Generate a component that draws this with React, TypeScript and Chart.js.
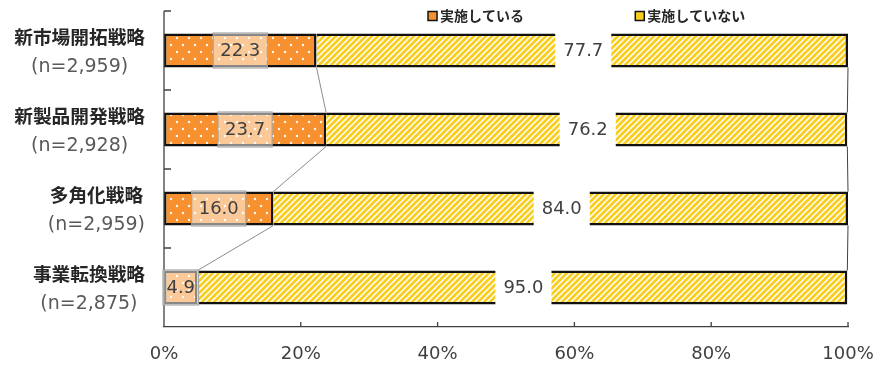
import { useEffect, useRef } from 'react';
import { Chart, registerables } from 'chart.js';

Chart.register(...registerables);

const categories = ['新市場開拓戦略', '新製品開発戦略', '多角化戦略', '事業転換戦略'];
const sampleSizes = ['(n=2,959)', '(n=2,928)', '(n=2,959)', '(n=2,875)'];
const seriesNames = ['実施している', '実施していない'];
const implemented = [22.3, 23.7, 16.0, 4.9];
const notImplemented = [77.7, 76.2, 84.0, 95.0];
const xTicks = [0, 20, 40, 60, 80, 100];

const ORANGE = '#F7912F';
const YELLOW = '#F9CD1E';

function dotPattern(): CanvasPattern | string {
  const c = document.createElement('canvas');
  c.width = 12;
  c.height = 14;
  const g = c.getContext('2d');
  if (!g) return ORANGE;
  g.fillStyle = ORANGE;
  g.fillRect(0, 0, 12, 14);
  g.fillStyle = 'rgba(255,255,255,0.95)';
  [[3, 3], [9, 10]].forEach(([x, y]) => {
    g.beginPath();
    g.arc(x, y, 1.2, 0, Math.PI * 2);
    g.fill();
  });
  return g.createPattern(c, 'repeat') || ORANGE;
}

function hatchPattern(): CanvasPattern | string {
  const s = 6;
  const c = document.createElement('canvas');
  c.width = s;
  c.height = s;
  const g = c.getContext('2d');
  if (!g) return YELLOW;
  g.fillStyle = '#FFFFFF';
  g.fillRect(0, 0, s, s);
  g.strokeStyle = YELLOW;
  g.lineWidth = 2.7;
  g.beginPath();
  g.moveTo(0, s);
  g.lineTo(s, 0);
  g.moveTo(-s / 2, s / 2);
  g.lineTo(s / 2, -s / 2);
  g.moveTo(s / 2, s * 1.5);
  g.lineTo(s * 1.5, s / 2);
  g.stroke();
  return g.createPattern(c, 'repeat') || YELLOW;
}

const decorPlugin = {
  id: 'decor',
  afterDatasetsDraw(chart: any) {
    const ctx: CanvasRenderingContext2D = chart.ctx;
    const area = chart.chartArea;
    const xScale = chart.scales.x;
    const yScale = chart.scales.y;
    const n = chart.data.labels.length;
    const cat = (area.bottom - area.top) / n;

    ctx.save();
    // series lines
    const lineColors = ['#8C8C8C', '#404040'];
    chart.data.datasets.forEach((_ds: any, di: number) => {
      const meta = chart.getDatasetMeta(di);
      ctx.strokeStyle = lineColors[di];
      ctx.lineWidth = 1;
      for (let i = 0; i < meta.data.length - 1; i++) {
        const a = meta.data[i].getProps(['x', 'y', 'height'], true);
        const b = meta.data[i + 1].getProps(['x', 'y', 'height'], true);
        ctx.beginPath();
        ctx.moveTo(a.x, a.y + a.height / 2);
        ctx.lineTo(b.x, b.y - b.height / 2);
        ctx.stroke();
      }
    });

    // axis line + ticks
    ctx.strokeStyle = '#404040';
    ctx.lineWidth = 1.3;
    ctx.beginPath();
    ctx.moveTo(area.left, area.top);
    ctx.lineTo(area.left, area.bottom);
    for (let i = 0; i < n; i++) {
      const y = yScale.getPixelForValue(i) - cat / 2;
      ctx.moveTo(area.left, y);
      ctx.lineTo(area.left + 7, y);
    }
    xTicks.forEach((v) => {
      if (v === 0) return;
      const x = xScale.getPixelForValue(v);
      ctx.moveTo(x, area.bottom - 5);
      ctx.lineTo(x, area.bottom);
    });
    ctx.stroke();

    // data labels
    ctx.font = '18px "DejaVu Sans"';
    ctx.textAlign = 'center';
    ctx.textBaseline = 'middle';
    chart.data.datasets.forEach((ds: any, di: number) => {
      const meta = chart.getDatasetMeta(di);
      meta.data.forEach((el: any, i: number) => {
        const p = el.getProps(['x', 'y', 'base', 'height'], true);
        const txt = Number(ds.data[i]).toFixed(1);
        const tw = ctx.measureText(txt).width;
        const segW = Math.abs(p.x - p.base);
        const w = Math.min(tw + 14, segW + 2);
        const cx = (p.x + p.base) / 2;
        const h = p.height + 1;
        const top = p.y - h / 2;
        if (di === 0) {
          ctx.fillStyle = 'rgba(255,255,255,0.5)';
          ctx.fillRect(cx - w / 2, top, w, h);
          ctx.strokeStyle = '#A6A6A6';
          ctx.lineWidth = 1.2;
          ctx.strokeRect(cx - w / 2, top, w, h);
        } else {
          ctx.fillStyle = '#FFFFFF';
          ctx.fillRect(cx - w / 2, top - 0.5, w + 2, h + 1);
        }
        ctx.fillStyle = '#404040';
        ctx.fillText(txt, cx + (di === 1 ? 1 : 0), p.y + 1);
      });
    });

    // category labels
    (chart.data.labels as string[][]).forEach((lines, i) => {
      const y = yScale.getPixelForValue(i);
      ctx.font = 'bold 18.7px "Noto Sans CJK JP"';
      const w1 = ctx.measureText(lines[0]).width;
      ctx.font = '19px "DejaVu Sans"';
      const w2 = ctx.measureText(lines[1]).width;
      const bw = Math.max(w1, w2);
      const cx = area.left - 19 - bw / 2;
      ctx.textAlign = 'center';
      ctx.textBaseline = 'middle';
      ctx.font = 'bold 18.7px "Noto Sans CJK JP"';
      ctx.fillStyle = '#262626';
      ctx.fillText(lines[0], cx, y - 14);
      ctx.font = '19px "DejaVu Sans"';
      ctx.fillStyle = '#595959';
      ctx.fillText(lines[1], cx, y + 17);
    });

    // legend
    const legendPos = [0.386, 0.689];
    const legendFill = [ORANGE, YELLOW];
    ctx.font = 'bold 14px "Noto Sans CJK JP"';
    ctx.textAlign = 'left';
    ctx.textBaseline = 'middle';
    chart.data.datasets.forEach((ds: any, di: number) => {
      const bx = area.left + legendPos[di] * (area.right - area.left);
      const by = 16;
      ctx.fillStyle = legendFill[di];
      ctx.fillRect(bx, by - 4.5, 9, 9);
      ctx.strokeStyle = '#111';
      ctx.lineWidth = 1.5;
      ctx.strokeRect(bx, by - 4.5, 9, 9);
      ctx.fillStyle = '#262626';
      ctx.fillText(ds.label, bx + 12, by);
    });
    ctx.restore();
  },
};

function zeroPadding(scale: any) {
  scale.paddingLeft = 0;
  scale.paddingRight = 0;
  scale.paddingTop = 0;
  scale.paddingBottom = 0;
}

export default function App() {
  const ref = useRef<HTMLCanvasElement>(null);
  useEffect(() => {
    const canvas = ref.current;
    if (!canvas) return;
    Chart.defaults.font.family = '"DejaVu Sans"';
    const chart = new Chart(canvas, {
      type: 'bar',
      data: {
        labels: categories.map((c, i) => [c, sampleSizes[i]]),
        datasets: [
          {
            label: seriesNames[0],
            data: implemented,
            backgroundColor: dotPattern() as any,
            borderColor: '#111111',
            borderWidth: { top: 2.5, bottom: 2.5, left: 2.5, right: 2.5 } as any,
            borderSkipped: false,
          },
          {
            label: seriesNames[1],
            data: notImplemented,
            backgroundColor: hatchPattern() as any,
            borderColor: '#111111',
            borderWidth: { top: 2.5, bottom: 2.5, left: 0, right: 2.5 } as any,
            borderSkipped: false,
          },
        ],
      },
      options: {
        indexAxis: 'y',
        responsive: true,
        maintainAspectRatio: false,
        animation: false,
        layout: { padding: { left: 164, right: 34, top: 11, bottom: 0 } },
        datasets: { bar: { categoryPercentage: 1, barPercentage: 0.43 } },
        scales: {
          x: {
            stacked: true,
            min: 0,
            max: 100,
            afterBuildTicks: (s: any) => {
              s.ticks = xTicks.map((v) => ({ value: v }));
            },
            afterFit: (s: any) => {
              s.height = 39;
              zeroPadding(s);
            },
            ticks: {
              callback: (v: any) => v + '%',
              font: { size: 18, family: '"DejaVu Sans"' },
              color: '#404040',
              padding: 9,
              maxRotation: 0,
              autoSkip: false,
            },
            grid: { display: false, tickLength: 8 },
            border: { display: true, color: '#404040', width: 1.3 },
          },
          y: {
            stacked: true,
            display: false,
            afterFit: (s: any) => {
              s.width = 0;
              zeroPadding(s);
            },
          },
        },
        plugins: { legend: { display: false }, tooltip: { enabled: false } },
      },
      plugins: [decorPlugin],
    });
    return () => chart.destroy();
  }, []);
  return (
    <div style={{ position: 'absolute', left: 0, top: 0, width: 882, height: 366, background: '#fff' }}>
      <canvas ref={ref} />
    </div>
  );
}
